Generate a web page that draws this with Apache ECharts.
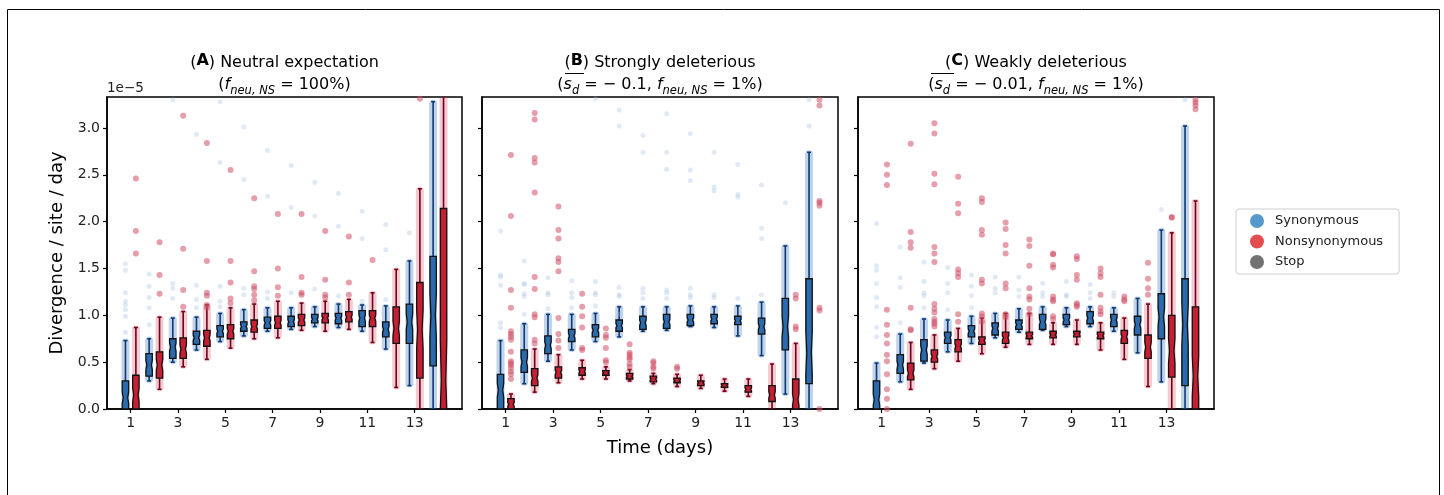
<!DOCTYPE html>
<html><head><meta charset="utf-8">
<script src="https://cdn.jsdelivr.net/npm/echarts@6/dist/echarts.min.js"></script>
<style>html,body{margin:0;padding:0;background:#fff}#c{width:1444px;height:495px}</style>
</head><body><div id="c"></div><script>
// ---------- data (values in units of 1e-5 divergence / site / day) ----------
const DAYS = [1,2,3,4,5,6,7,8,9,10,11,12,13,14];
const X_TICKS = [1,3,5,7,9,11,13];
const Y_TICKS = [0,0.5,1,1.5,2,2.5,3];
const LEGEND_NAMES = ['Synonymous','Nonsynonymous','Stop'];

// box stats per day: [lower whisker, Q1, median, Q3, upper whisker]
const A_SYN_BOX = [[0,0,0.12,0.30,0.73],[0.30,0.35,0.47,0.59,0.75],[0.50,0.54,0.66,0.75,0.97],[0.63,0.69,0.76,0.83,0.98],[0.72,0.77,0.83,0.89,1.02],[0.78,0.83,0.88,0.93,1.06],[0.83,0.86,0.92,0.98,1.08],[0.85,0.88,0.93,0.99,1.08],[0.88,0.92,0.96,1.01,1.09],[0.87,0.91,0.97,1.02,1.12],[0.83,0.88,0.97,1.05,1.11],[0.64,0.77,0.85,0.93,1.10],[0.25,0.70,0.93,1.12,1.58],[0,0.46,1.00,1.63,3.28]];
const A_NON_BOX = [[0,0,0.15,0.36,0.87],[0.21,0.33,0.47,0.61,0.98],[0.45,0.54,0.64,0.76,1.04],[0.53,0.67,0.76,0.84,1.11],[0.65,0.75,0.83,0.90,1.08],[0.75,0.82,0.88,0.95,1.12],[0.76,0.86,0.92,0.99,1.15],[0.84,0.89,0.95,1.01,1.13],[0.83,0.92,0.97,1.02,1.15],[0.85,0.93,0.98,1.04,1.17],[0.71,0.88,0.97,1.05,1.24],[0.23,0.70,0.86,1.09,1.49],[0,0.33,0.85,1.35,2.35],[0,0,0.30,2.14,3.60]];
const B_SYN_BOX = [[0,0,0.20,0.37,0.73],[0.27,0.39,0.50,0.63,0.91],[0.51,0.59,0.68,0.78,1.01],[0.63,0.72,0.78,0.85,1.01],[0.72,0.77,0.84,0.90,1.02],[0.77,0.83,0.89,0.95,1.09],[0.83,0.85,0.92,0.99,1.09],[0.84,0.86,0.93,1.01,1.09],[0.88,0.89,0.95,1.01,1.10],[0.87,0.91,0.96,1.01,1.09],[0.78,0.90,0.94,0.99,1.10],[0.57,0.80,0.88,0.97,1.14],[0.16,0.63,0.88,1.18,1.74],[0,0.27,0.60,1.39,2.74]];
const B_NON_BOX = [[0,0,0.05,0.11,0.16],[0.18,0.25,0.33,0.43,0.64],[0.28,0.33,0.39,0.45,0.58],[0.32,0.36,0.40,0.44,0.52],[0.32,0.36,0.385,0.41,0.45],[0.30,0.32,0.35,0.38,0.42],[0.27,0.29,0.32,0.35,0.38],[0.24,0.28,0.30,0.33,0.37],[0.22,0.25,0.28,0.30,0.36],[0.19,0.23,0.25,0.27,0.32],[0.135,0.18,0.21,0.25,0.32],[0,0.08,0.15,0.25,0.48],[0,0,0.10,0.32,0.70],[0,0,0,0,0]];
const C_SYN_BOX = [[0,0,0.10,0.30,0.49],[0.29,0.38,0.47,0.58,0.80],[0.49,0.51,0.63,0.74,0.96],[0.61,0.70,0.76,0.82,0.95],[0.70,0.77,0.83,0.89,0.99],[0.76,0.79,0.86,0.92,1.02],[0.82,0.85,0.90,0.95,1.07],[0.84,0.85,0.93,1.01,1.09],[0.88,0.90,0.95,1.01,1.08],[0.88,0.91,0.97,1.04,1.09],[0.83,0.88,0.95,1.01,1.08],[0.60,0.79,0.90,0.99,1.18],[0.29,0.75,0.98,1.23,1.91],[0,0.25,0.90,1.39,3.02]];
const C_NON_BOX = [[0,0,0,0,0],[0.21,0.31,0.38,0.49,0.71],[0.43,0.50,0.56,0.63,0.79],[0.51,0.61,0.67,0.74,0.86],[0.59,0.69,0.73,0.77,0.97],[0.66,0.70,0.76,0.82,1.02],[0.69,0.75,0.78,0.82,1.02],[0.69,0.76,0.79,0.83,0.92],[0.69,0.77,0.80,0.83,0.95],[0.63,0.75,0.78,0.82,0.92],[0.53,0.70,0.77,0.84,0.97],[0.24,0.54,0.66,0.79,1.12],[0,0.34,0.62,1.00,1.88],[0,0,0.35,1.09,2.22]];

// outlying points per day (index = day-1)
const A_SYN_OUT = [[0.82,0.99,1.06,1.11,1.15,1.24,1.48,1.55],[0.90,1.08,1.19,1.31,1.44],[1.18,1.29,1.34,3.30],[1.08,1.17,1.32,2.93],[1.09,1.15,1.31,2.63,3.28],[1.22,1.29,2.45,3.01],[1.18,1.25,2.27,2.76],[1.24,2.15,2.60],[1.28,2.06,2.42],[1.21,1.95,2.30],[1.15,1.82,2.11],[1.17,1.70,1.97],[1.88],[]];
const A_NON_OUT = [[1.66,1.90,2.46],[1.23,1.43,1.78],[1.09,1.27,1.71,3.13],[1.08,1.11,1.21,1.24,1.58,2.84],[1.13,1.18,1.35,1.58,2.55],[1.16,1.22,1.28,1.31,1.47,2.25],[1.21,1.30,1.50,2.08],[1.22,1.24,1.41,2.08],[1.19,1.22,1.38,1.90],[1.22,1.35,1.84],[1.59],[],[3.31],[]];
const B_SYN_OUT = [[0.87,0.92,1.32,1.41,1.43,1.90],[1.01,1.20,1.23,1.33,1.34,1.58],[1.07,1.22,1.24,1.40],[1.08,1.19,1.24,1.37],[1.10,1.22,1.24,1.36,3.31],[1.01,1.20,1.22,1.30,3.02,3.19],[1.18,1.24,1.29,2.74,2.92],[1.18,1.24,1.27,2.56,2.74,3.15],[1.19,1.22,1.29,2.44,2.55,2.94],[1.19,1.22,2.33,2.37,2.74],[1.18,2.26,2.29,2.61],[1.22,1.82,1.93,2.39],[2.20],[3.02,3.30]];
const B_NON_OUT = [[0.32,0.37,0.40,0.44,0.47,0.49,0.51,0.61,0.74,0.77,0.80,0.83,1.08,1.27,2.06,2.71],[0.70,0.74,0.98,1.01,1.28,1.41,2.31,2.63,2.68,3.09,3.16],[0.65,0.73,0.80,0.97,1.47,1.57,1.61,1.82,1.91,2.16],[0.63,0.65,0.87,0.99,1.09,1.23],[0.50,0.52,0.65,0.76,0.79,0.86],[0.45,0.48,0.53,0.55,0.58,0.60,0.69],[0.43,0.45,0.49,0.51],[0.43,0.45],[],[],[],[],[0.85,0.88,1.18,1.22],[0,1.05,1.08,2.17,2.20,2.22,3.24,3.30]];
const C_SYN_OUT = [[0.77,0.87,1.09,1.19,1.34,1.48,1.53,1.98],[0.92,1.30,1.40,1.73],[1.08,1.21,1.24,1.36,1.57],[1.06,1.24,1.34,1.51],[1.08,1.21,1.31,1.43],[1.24,1.29,1.41],[1.20,1.27,1.41],[1.20,1.24,1.34],[1.20,1.22,1.36],[1.18,1.24,1.33],[1.20,1.24],[],[2.13],[3.30]];
const C_NON_OUT = [[0,0.11,0.21,0.37,0.51,0.58,0.70,0.79,0.90,1.06,2.39,2.50,2.61],[0.84,0.85,1.08,1.72,1.78,1.89,2.83],[0.88,0.91,0.93,0.96,1.03,1.07,1.12,1.57,1.66,1.73,2.40,2.51,2.94,3.05],[0.93,1.01,1.41,1.45,1.49,2.09,2.19,2.48],[0.93,0.99,1.02,1.34,1.38,1.86,1.91,2.21,2.25],[0.98,1.01,1.29,1.34,1.66,1.75,1.92,1.99],[1.01,1.07,1.17,1.20,1.29,1.53,1.74,1.81],[0.96,0.99,1.15,1.17,1.20,1.51,1.54,1.65,1.66],[1.09,1.11,1.13,1.38,1.43,1.60,1.63],[1.01,1.04,1.08,1.22,1.41,1.45,1.50],[1.15,1.17,1.20],[1.22,1.29,1.39,1.56],[2.04,2.05],[3.20,3.24,3.27,3.30]];

// ---------- styling ----------
const FONT = 'DejaVu Sans';
const OFF = 0.22;
const SYN = {fill:'#2a6aaf', dark:'#0c3a74', strip:'rgba(45,110,185,0.3)', out:'#9fbde0', outOp:0.32, size:5};
const NON = {fill:'#c61f33', dark:'#72001c', strip:'rgba(205,40,65,0.24)', out:'#cf4e64', outOp:0.55, size:6};
const LEG_COLORS = ['#2c7fbf','#dc2023','#4f4f4f'];

const PANELS = [
  {left:107, width:355, syn:A_SYN_BOX, non:A_NON_BOX, synOut:A_SYN_OUT, nonOut:A_NON_OUT},
  {left:482, width:356, syn:B_SYN_BOX, non:B_NON_BOX, synOut:B_SYN_OUT, nonOut:B_NON_OUT},
  {left:858, width:356, syn:C_SYN_BOX, non:C_NON_BOX, synOut:C_SYN_OUT, nonOut:C_NON_OUT}
];
const TOP = 97, HEIGHT = 312;

function boxRenderer(off, st){
  return function(params, api){
    const d = api.value(0), lo = api.value(1), q1 = api.value(2), md = api.value(3), q3 = api.value(4), hi = api.value(5);
    if (hi <= 0) return {type:'group', children:[]};
    const x = api.coord([d + off, 0])[0];
    const Y = v => api.coord([d + off, v])[1];
    const w = 3.2, sw = 4, cw = 2;
    const yl = Y(lo), yh = Y(hi), y1 = Y(q1), y3 = Y(q3), ym = Y(md);
    const k = (q3 - q1) * 0.2;
    const nl = Y(Math.max(q1, md - k)), nh = Y(Math.min(q3, md + k));
    const wi = w * 0.7;
    return {type:'group', children:[
      {type:'rect', shape:{x:x-sw, y:yh-2, width:2*sw, height:(yl-yh)+4, r:4}, style:{fill:st.strip}},
      {type:'line', shape:{x1:x, y1:yl, x2:x, y2:yh}, style:{stroke:st.dark, lineWidth:1.6}},
      {type:'line', shape:{x1:x-cw, y1:yh, x2:x+cw, y2:yh}, style:{stroke:st.dark, lineWidth:1.6}},
      {type:'line', shape:{x1:x-cw, y1:yl, x2:x+cw, y2:yl}, style:{stroke:st.dark, lineWidth:1.6}},
      {type:'polygon', shape:{points:[[x-w,y1],[x+w,y1],[x+w,nl],[x+wi,ym],[x+w,nh],[x+w,y3],[x-w,y3],[x-w,nh],[x-wi,ym],[x-w,nl]]},
        style:{fill:st.fill, stroke:'#111', lineWidth:1.3}}
    ]};
  };
}

const grids = [], xAxes = [], yAxes = [], series = [], titles = [];
PANELS.forEach((p, i) => {
  grids.push({left:p.left, top:TOP, width:p.width, height:HEIGHT, show:true, borderColor:'#000', borderWidth:1.5, backgroundColor:'transparent'});
  xAxes.push({type:'value', gridIndex:i, min:0, max:15, splitLine:{show:false},
    axisLine:{show:true, onZero:false, lineStyle:{color:'#000', width:1.5}},
    axisTick:{show:true, customValues:X_TICKS, length:4, lineStyle:{color:'#000', width:1.2}},
    axisLabel:{show:true, customValues:X_TICKS, fontFamily:FONT, fontSize:14, color:'#222', margin:7},
    name: i === 1 ? 'Time (days)' : '', nameLocation:'middle', nameGap:30,
    nameTextStyle:{fontFamily:FONT, fontSize:18, color:'#000'}});
  yAxes.push({type:'value', gridIndex:i, min:0, max:3.33, splitLine:{show:false},
    axisLine:{show:true, lineStyle:{color:'#000', width:1.5}},
    axisTick:{show:true, customValues:Y_TICKS, length:4, lineStyle:{color:'#000', width:1.2}},
    axisLabel:{show:i === 0, customValues:Y_TICKS, formatter:v => Number(v).toFixed(1), fontFamily:FONT, fontSize:14, color:'#222', margin:7},
    name: i === 0 ? 'Divergence / site / day' : '', nameLocation:'middle', nameGap:41,
    nameTextStyle:{fontFamily:FONT, fontSize:18, color:'#000'}});
  [[p.syn, -OFF, SYN, 'syn'], [p.non, OFF, NON, 'non']].forEach(([box, off, st, tag]) => {
    series.push({type:'custom', name:tag + i, xAxisIndex:i, yAxisIndex:i, clip:true, z:3,
      renderItem:boxRenderer(off, st),
      encode:{x:0, y:[1,2,3,4,5]},
      data: DAYS.map((d, j) => [d].concat(box[j]))});
  });
  [[p.synOut, -OFF, SYN, 'synOut'], [p.nonOut, OFF, NON, 'nonOut']].forEach(([out, off, st, tag]) => {
    const pts = [];
    DAYS.forEach((d, j) => out[j].forEach(v => pts.push([d + off, v])));
    series.push({type:'scatter', name:tag + i, xAxisIndex:i, yAxisIndex:i, z:4, clip:true,
      symbolSize:st.size, itemStyle:{color:st.out, opacity:st.outOp}, silent:true, data:pts});
  });
});
LEGEND_NAMES.forEach((n, k) => series.push({type:'scatter', name:n, xAxisIndex:0, yAxisIndex:0, data:[], itemStyle:{color:LEG_COLORS[k]}}));

const T1 = {fontFamily:FONT, fontSize:16, fontWeight:'normal', color:'#000', lineHeight:20};
const richBase = {
  b:{fontFamily:FONT, fontSize:16, fontWeight:'bold', color:'#000', lineHeight:20},
  n:{fontFamily:FONT, fontSize:16, fontWeight:'normal', color:'#000', lineHeight:20, verticalAlign:'bottom'},
  i:{fontFamily:FONT, fontSize:16, fontWeight:'normal', fontStyle:'italic', color:'#000', lineHeight:20, verticalAlign:'bottom'},
  s:{fontFamily:FONT, fontSize:11.5, fontWeight:'normal', fontStyle:'italic', color:'#000', lineHeight:20, verticalAlign:'bottom', padding:[0,0,-4,0]}
};
const TITLE1 = ['{n|(}{b|A}{n|) Neutral expectation}', '{n|(}{b|B}{n|) Strongly deleterious}', '{n|(}{b|C}{n|) Weakly deleterious}'];
const TITLE2 = ['{n|(}{i|f}{s|neu, NS}{n| = 100%)}', '{n|(}{i|s}{s|d}{n| = \u2212 0.1, }{i|f}{s|neu, NS}{n| = 1%)}', '{n|(}{i|s}{s|d}{n| = \u2212 0.01, }{i|f}{s|neu, NS}{n| = 1%)}'];
PANELS.forEach((p, i) => {
  const cx = p.left + p.width / 2;
  titles.push({text:TITLE1[i], left:cx, top:51, textAlign:'center', padding:0, textStyle:Object.assign({rich:richBase}, T1)});
  titles.push({text:TITLE2[i], left:cx, top:73, textAlign:'center', padding:0, textStyle:Object.assign({rich:richBase}, T1)});
});

const option = {
  animation:false,
  backgroundColor:'#fff',
  title:titles,
  grid:grids, xAxis:xAxes, yAxis:yAxes, series:series,
  legend:{data:LEGEND_NAMES, orient:'vertical', left:1236, top:209, icon:'circle', itemWidth:14, itemHeight:14, itemGap:6.5,
    padding:[5,16,5,14], borderColor:'#cfcfcf', borderWidth:1, borderRadius:3, backgroundColor:'#fff',
    textStyle:{fontFamily:FONT, fontSize:13, color:'#222', padding:[0,0,0,6]}, selectedMode:false},
  graphic:[
    {type:'rect', shape:{x:7.5, y:9.5, width:1432, height:500}, style:{fill:'none', stroke:'#000', lineWidth:1}, silent:true},
    {type:'text', left:107, top:81, style:{text:'1e\u22125', fontFamily:FONT, fontSize:13.5, fill:'#222'}},
    {type:'line', shape:{x1:565, y1:73.5, x2:584, y2:73.5}, style:{stroke:'#000', lineWidth:1}},
    {type:'line', shape:{x1:931, y1:73.5, x2:954, y2:73.5}, style:{stroke:'#000', lineWidth:1}}
  ]
};
const chart = echarts.init(document.getElementById('c'), null, {renderer:'canvas'});
chart.setOption(option);
</script></body></html>
